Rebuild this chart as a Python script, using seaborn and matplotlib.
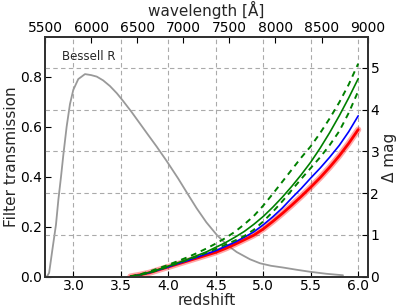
import numpy as np
import matplotlib
matplotlib.use("Agg")
import matplotlib.pyplot as plt
import seaborn as sns

# Bessell R filter transmission
wavelength = [5500, 5522, 5545, 5580, 5619, 5645, 5674, 5700, 5735, 5771, 5807,
              5861, 5934, 6000, 6061, 6130, 6205, 6280, 6346, 6440, 6530, 6620,
              6711, 6820, 6943, 7040, 7145, 7250, 7362, 7470, 7579, 7723, 7832,
              7950, 8081, 8230, 8374, 8550, 8732]
transmission = [0.0, 0.0, 0.015, 0.107, 0.207, 0.307, 0.40, 0.49, 0.60, 0.69, 0.747,
                0.79, 0.81, 0.806, 0.80, 0.785, 0.762, 0.733, 0.703, 0.658, 0.612, 0.566,
                0.52, 0.462, 0.393, 0.335, 0.273, 0.217, 0.167, 0.128, 0.098, 0.069, 0.053,
                0.043, 0.036, 0.027, 0.019, 0.011, 0.005]

# magnitude offset vs redshift
redshift = [3.6, 3.7, 3.8, 3.9, 4.0, 4.1, 4.2, 4.3, 4.4, 4.5, 4.6, 4.7, 4.8,
            4.9, 5.0, 5.1, 5.2, 5.3, 5.4, 5.5, 5.6, 5.7, 5.8, 5.9, 6.0]
dmag_red = [0.00, 0.04, 0.09, 0.16, 0.23, 0.30, 0.37, 0.44, 0.51, 0.58, 0.67, 0.77, 0.88,
            0.99, 1.14, 1.32, 1.51, 1.71, 1.92, 2.14, 2.37, 2.62, 2.89, 3.19, 3.52]
dmag_blue = [0.00, 0.04, 0.09, 0.16, 0.23, 0.31, 0.38, 0.46, 0.54, 0.62, 0.72, 0.82, 0.94,
             1.07, 1.24, 1.43, 1.64, 1.88, 2.11, 2.36, 2.60, 2.86, 3.14, 3.47, 3.85]
dmag_green = [0.00, 0.04, 0.10, 0.17, 0.25, 0.33, 0.41, 0.50, 0.59, 0.70, 0.81, 0.94, 1.08,
              1.25, 1.44, 1.66, 1.90, 2.16, 2.44, 2.74, 3.08, 3.45, 3.85, 4.28, 4.74]
dmag_green_hi = [0.00, 0.05, 0.12, 0.20, 0.28, 0.37, 0.46, 0.56, 0.67, 0.79, 0.92, 1.07, 1.25,
                 1.45, 1.70, 1.98, 2.27, 2.56, 2.85, 3.12, 3.44, 3.79, 4.17, 4.60, 5.10]
dmag_green_lo = [0.00, 0.04, 0.09, 0.16, 0.24, 0.32, 0.40, 0.48, 0.57, 0.66, 0.76, 0.86, 0.97,
                 1.12, 1.32, 1.55, 1.80, 2.07, 2.34, 2.60, 2.86, 3.15, 3.48, 3.92, 4.44]

sns.set_style("ticks")
plt.rcParams['font.family'] = ['DejaVu Sans']

fig = plt.figure(figsize=(4.09, 3.07), dpi=100)
ax = fig.add_axes([0.110, 0.0993, 0.789, 0.779])
ax_top = ax.twiny()
ax_r = ax.twinx()

# filter curve on wavelength axis
sns.lineplot(x=wavelength, y=transmission, ax=ax_top, color='#999999', lw=1.3)
ax_top.set_xlim(5500, 9000)
ax_top.set_xticks(np.arange(5500, 9001, 500))
ax_top.set_xlabel(u'wavelength [\u00c5]', fontsize=11, labelpad=3)

# delta mag curves
sns.lineplot(x=redshift, y=dmag_red, ax=ax_r, color='red', lw=4.5, alpha=0.35)
sns.lineplot(x=redshift, y=dmag_red, ax=ax_r, color='red', lw=2)
sns.lineplot(x=redshift, y=dmag_blue, ax=ax_r, color='blue', lw=1.2)
sns.lineplot(x=redshift, y=dmag_green, ax=ax_r, color='green', lw=1.2)
sns.lineplot(x=redshift, y=dmag_green_hi, ax=ax_r, color='green', lw=1.4)
sns.lineplot(x=redshift, y=dmag_green_lo, ax=ax_r, color='green', lw=1.4)
ax_r.lines[-1].set_linestyle((0, (3, 2.5)))
ax_r.lines[-2].set_linestyle((0, (3, 2.5)))

ax.set_xlim(2.7, 6.1)
ax.set_ylim(0, 0.957)
ax.set_xticks(np.arange(3.0, 6.01, 0.5))
ax.set_yticks([0.0, 0.2, 0.4, 0.6, 0.8])
ax.set_xlabel('redshift', fontsize=11, labelpad=0)
ax.set_ylabel('Filter transmission', fontsize=11, labelpad=1)

ax_r.set_ylim(0, 5.73)
ax_r.set_yticks([0, 1, 2, 3, 4, 5])
ax_r.set_ylabel(u'\u0394 mag', fontsize=11, labelpad=2)

ax.xaxis.grid(True, color='#aaaaaa', linestyle=(0, (4, 3)), lw=0.8)
ax_r.yaxis.grid(True, color='#aaaaaa', linestyle=(0, (4, 3)), lw=0.8)

for a in (ax, ax_top, ax_r):
    a.tick_params(direction='in', length=4, width=0.8, labelsize=10, pad=2, colors='black')
    for s in a.spines.values():
        s.set_color('#333333')
        s.set_linewidth(1.2)

ax.text(0.053, 0.92, 'Bessell R', transform=ax.transAxes, fontsize=8.5, va='center', ha='left')

fig.savefig('out.png', dpi=100)
